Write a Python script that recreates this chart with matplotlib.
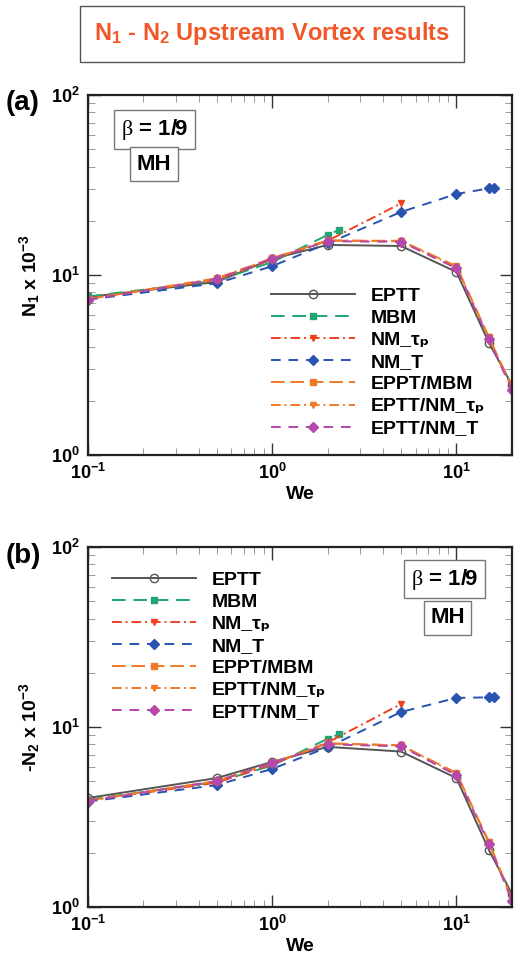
import numpy as np
import matplotlib
matplotlib.use("Agg")
import matplotlib.pyplot as plt
from matplotlib.ticker import LogLocator, FuncFormatter, NullFormatter

plt.rcParams['font.family'] = ['Liberation Sans', 'DejaVu Sans']
plt.rcParams['mathtext.fontset'] = 'custom'
plt.rcParams['mathtext.rm'] = 'Liberation Serif'
plt.rcParams['mathtext.bf'] = 'Liberation Sans:bold'
plt.rcParams['mathtext.it'] = 'Liberation Serif:italic'
plt.rcParams['mathtext.default'] = 'bf'

# --- data (We on x) ---
we_full = [0.1, 0.5, 1, 2, 5, 10, 15, 20]
we_mbm = [0.1, 0.5, 1, 2, 2.3]
we_nmtp = [0.1, 0.5, 1, 2, 5]
we_nmt = [0.1, 0.5, 1, 2, 5, 10, 15, 16]

# panel (a): N1 x 1e-3
n1_eptt = [7.55, 9.15, 12.3, 14.7, 14.5, 10.4, 4.2, 2.45]
n1_mbm = [7.6, 9.3, 11.8, 16.7, 17.8]
n1_nmtp = [7.4, 9.4, 12.2, 15.5, 25.0]
n1_nmt = [7.3, 9.0, 11.2, 15.0, 22.4, 28.2, 30.3, 30.5]
n1_eptt_mbm = [7.35, 9.5, 12.4, 15.5, 15.5, 11.2, 4.5, 2.4]
n1_eptt_nmtp = [7.35, 9.6, 12.4, 15.6, 15.4, 11.1, 4.5, 2.35]
n1_eptt_nmt = [7.3, 9.5, 12.3, 15.4, 15.3, 10.9, 4.4, 2.3]

# panel (b): -N2 x 1e-3
n2_eptt = [4.03, 5.2, 6.4, 7.75, 7.3, 5.2, 2.07, 1.18]
n2_mbm = [3.95, 4.95, 6.1, 8.6, 9.1]
n2_nmtp = [3.9, 4.9, 6.2, 8.2, 13.4]
n2_nmt = [3.85, 4.75, 5.85, 7.7, 12.1, 14.5, 14.6, 14.6]
n2_eptt_mbm = [3.9, 5.0, 6.3, 8.1, 7.9, 5.55, 2.3, 1.1]
n2_eptt_nmtp = [3.9, 5.0, 6.3, 8.1, 7.9, 5.5, 2.28, 1.1]
n2_eptt_nmt = [3.88, 5.0, 6.3, 8.0, 7.8, 5.4, 2.24, 1.08]

labels = ['EPTT', 'MBM', 'NM_τₚ', 'NM_T', 'EPPT/MBM', 'EPTT/NM_τₚ', 'EPTT/NM_T']

# style per series: color, linestyle, marker, marker face
styles = [
    ('#555555', '-', 'o', 'none'),
    ('#1fa672', (0, (7, 4)), 's', '#1fa672'),
    ('#f0401e', (0, (5, 2, 1, 2)), 'v', '#f0401e'),
    ('#2a52b0', (0, (5, 4)), 'D', '#2a52b0'),
    ('#f07a28', (0, (7, 3)), 's', '#f07a28'),
    ('#f07a28', (0, (5, 2, 1, 2)), 'v', '#f07a28'),
    ('#b548a8', (0, (5, 4)), 'D', '#b548a8'),
]


def draw_panel(ax, series):
    for (xs, ys), lab, (c, ls, m, fc) in zip(series, labels, styles):
        ms = 6 if m == 'o' else 5
        ax.plot(xs, ys, color=c, linestyle=ls, marker=m, markersize=ms,
                markerfacecolor=fc, markeredgecolor=c, linewidth=1.4, label=lab)
    ax.set_xscale('log')
    ax.set_yscale('log')
    ax.set_xlim(0.1, 20)
    ax.set_ylim(1, 100)
    fmt = FuncFormatter(lambda v, p: r'$\mathbf{10^{%d}}$' % int(round(np.log10(v))))
    ax.xaxis.set_major_formatter(fmt)
    ax.yaxis.set_major_formatter(fmt)
    ax.xaxis.set_minor_formatter(NullFormatter())
    ax.yaxis.set_minor_formatter(NullFormatter())
    ax.xaxis.set_minor_locator(LogLocator(base=10, subs=np.arange(2, 10)))
    ax.yaxis.set_minor_locator(LogLocator(base=10, subs=np.arange(2, 10)))
    ax.tick_params(which='both', direction='in', top=True, right=True,
                   labelsize=13, pad=6)
    ax.tick_params(which='major', length=9, width=1.0, color='#333333')
    ax.tick_params(which='minor', length=5, width=0.7, color='#999999')
    for s in ax.spines.values():
        s.set_linewidth(1.6)
        s.set_color('#222222')
    ax.set_xlabel('We', fontsize=14, fontweight='bold', labelpad=2)


def beta_boxes(ax, bx, by, mx, my):
    ax.text(bx, by, r'$\mathrm{\beta}$ = 1/9', transform=ax.transAxes, ha='center', va='center',
            fontsize=16, fontweight='bold',
            bbox=dict(boxstyle='square,pad=0.3', facecolor='white', edgecolor='#777777', linewidth=1))
    ax.text(mx, my, 'MH', transform=ax.transAxes, ha='center', va='center',
            fontsize=16, fontweight='bold',
            bbox=dict(boxstyle='square,pad=0.3', facecolor='white', edgecolor='#777777', linewidth=1))


leg_kw = dict(frameon=False, prop={'size': 14, 'weight': 'bold'},
              handlelength=4.3, handletextpad=0.8,
              labelspacing=0.23, borderpad=0)

fig = plt.figure(figsize=(5.14, 9.56), dpi=100)

# title box
fig.text(0.529, 0.9645, r'N$_{1}$ - N$_{2}$ Upstream Vortex results', ha='center', va='center',
         fontsize=17, color='#f0582a', fontweight='bold',
         bbox=dict(boxstyle='square,pad=0.6', facecolor='white', edgecolor='#555555', linewidth=1))

ax1 = fig.add_axes([0.171, 0.524, 0.825, 0.3766])
draw_panel(ax1, [(we_full, n1_eptt), (we_mbm, n1_mbm), (we_nmtp, n1_nmtp), (we_nmt, n1_nmt),
                 (we_full, n1_eptt_mbm), (we_full, n1_eptt_nmtp), (we_full, n1_eptt_nmt)])
ax1.set_ylabel(r'N$_1$ x 10$^{-3}$', fontsize=14, fontweight='bold', labelpad=6)
ax1.legend(loc='lower left', bbox_to_anchor=(0.41, 0.022), **leg_kw)
beta_boxes(ax1, 0.157, 0.904, 0.156, 0.808)
fig.text(0.01, 0.892, '(a)', fontsize=20, fontweight='bold', ha='left', va='center')

ax2 = fig.add_axes([0.171, 0.0513, 0.825, 0.3766])
draw_panel(ax2, [(we_full, n2_eptt), (we_mbm, n2_mbm), (we_nmtp, n2_nmtp), (we_nmt, n2_nmt),
                 (we_full, n2_eptt_mbm), (we_full, n2_eptt_nmtp), (we_full, n2_eptt_nmt)])
ax2.set_ylabel(r'-N$_2$ x 10$^{-3}$', fontsize=14, fontweight='bold', labelpad=6)
ax2.legend(loc='upper left', bbox_to_anchor=(0.035, 0.96), **leg_kw)
beta_boxes(ax2, 0.841, 0.91, 0.848, 0.803)
fig.text(0.01, 0.418, '(b)', fontsize=20, fontweight='bold', ha='left', va='center')

fig.savefig('out.png', dpi=100)
